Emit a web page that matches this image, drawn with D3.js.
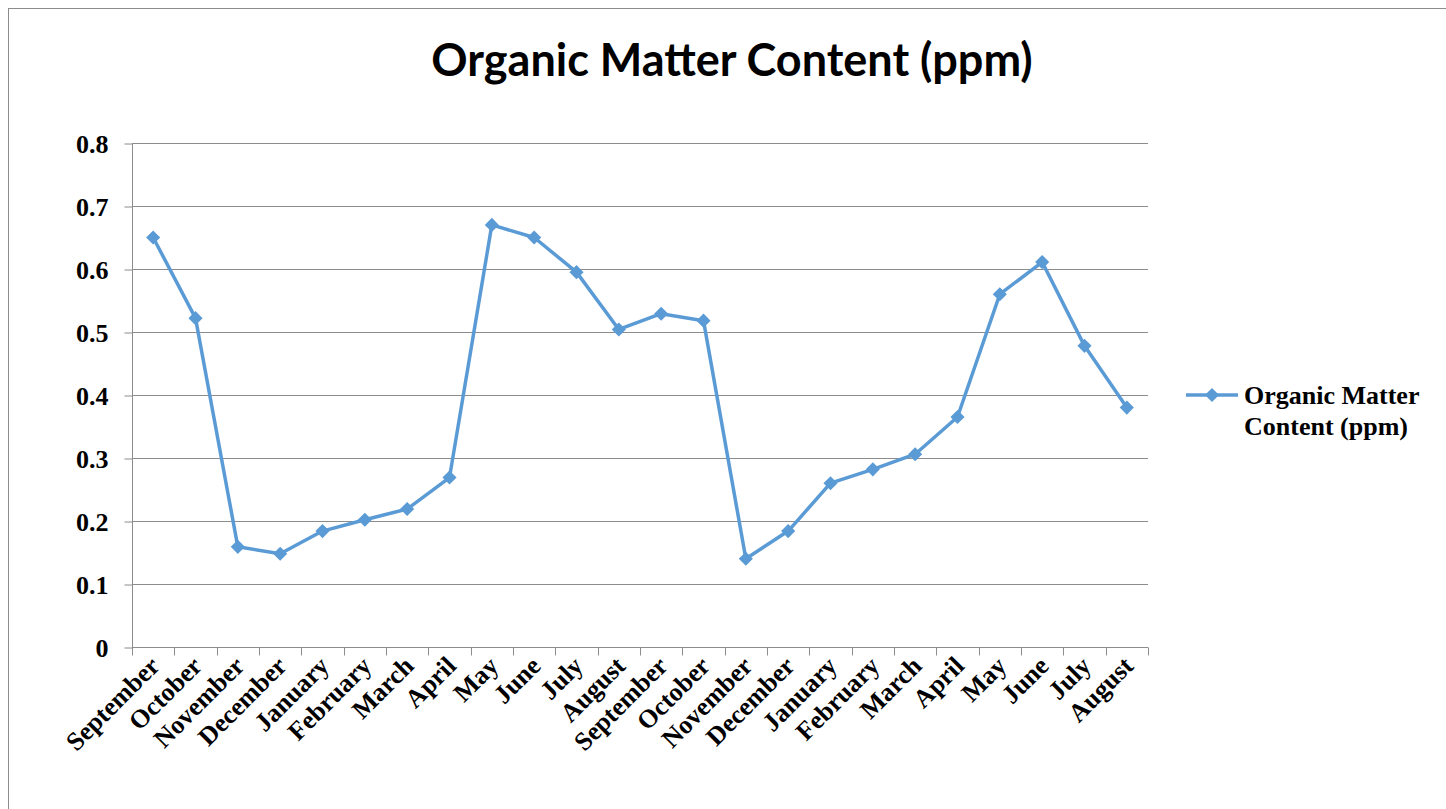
<!DOCTYPE html>
<html>
<head>
<meta charset="utf-8">
<script src="https://cdn.jsdelivr.net/npm/d3@7"></script>
<style>
    body { margin: 0; background: #fff; }
    .grid line { stroke: #8c8c8c; stroke-width: 1; }
    .axis path, .axis line { stroke: #8c8c8c; stroke-width: 1; fill: none; }
    .tick-label { font-family: "Liberation Serif", "Times New Roman", serif; font-weight: bold; font-size: 26px; fill: #000; }
</style>
</head>
<body>
<script>
"use strict";

const months = ["September", "October", "November", "December", "January", "February", "March",
    "April", "May", "June", "July", "August",
    "September", "October", "November", "December", "January", "February", "March",
    "April", "May", "June", "July", "August"];

const organicMatter = [0.65, 0.522, 0.159, 0.148, 0.184, 0.202, 0.219, 0.269, 0.670, 0.650, 0.595, 0.504,
    0.529, 0.518, 0.140, 0.184, 0.260, 0.282, 0.306, 0.365, 0.560, 0.611, 0.478, 0.380];

const yTicks = [0, 0.1, 0.2, 0.3, 0.4, 0.5, 0.6, 0.7, 0.8];

const seriesName = "Organic Matter Content (ppm)";

let width = 1446,
    height = 809,
    plotLeft = 132,
    plotRight = 1148,
    plotTop = 143,
    plotBottom = 647,
    blue = "#5b9bd5";

let data = months.map(function (m, i) {
    return { key: i, month: m, value: organicMatter[i] };
});

let svg = d3.select("body")
    .append("svg")
    .attr("width", width)
    .attr("height", height);

// outer chart frame
svg.append("rect")
    .attr("x", 8.5)
    .attr("y", 8.5)
    .attr("width", width)
    .attr("height", height)
    .attr("fill", "none")
    .attr("stroke", "#8c8c8c");

svg.append("text")
    .attr("x", 732)
    .attr("y", 76)
    .attr("text-anchor", "middle")
    .style("font-family", "Lato, 'Open Sans', sans-serif")
    .style("font-weight", "bold")
    .style("font-size", "45px")
    .text(seriesName);

let x = d3.scaleBand()
    .domain(data.map(d => d.key))
    .range([plotLeft, plotRight]);

let y = d3.scaleLinear()
    .domain([0, 0.8])
    .range([plotBottom, plotTop]);

// horizontal gridlines
svg.append("g")
    .attr("class", "grid")
    .selectAll("line")
    .data(yTicks.filter(d => d > 0))
    .enter().append("line")
    .attr("x1", plotLeft)
    .attr("x2", plotRight)
    .attr("y1", d => Math.round(y(d)) + 0.5)
    .attr("y2", d => Math.round(y(d)) + 0.5);

// y axis
let yAxis = svg.append("g")
    .attr("class", "axis")
    .attr("transform", "translate(" + (plotLeft + 0.5) + ",0.5)")
    .call(d3.axisLeft(y).tickValues(yTicks).tickSize(8).tickPadding(16)
        .tickFormat(d => d === 0 ? "0" : d3.format(".1f")(d)));
yAxis.selectAll("text").attr("class", "tick-label").attr("dy", "0.33em");
yAxis.select(".domain").attr("d", "M0," + plotTop + "V" + plotBottom);

// x axis: ticks at category boundaries
let xAxis = svg.append("g")
    .attr("class", "axis")
    .attr("transform", "translate(0," + (plotBottom + 0.5) + ")");

xAxis.append("line")
    .attr("x1", plotLeft)
    .attr("x2", plotRight)
    .attr("y1", 0)
    .attr("y2", 0);

let bounds = data.map(d => x(d.key)).concat([plotRight]);
xAxis.selectAll("line.tk")
    .data(bounds)
    .enter().append("line")
    .attr("class", "tk")
    .attr("x1", d => Math.round(d) + 0.5)
    .attr("x2", d => Math.round(d) + 0.5)
    .attr("y1", 0)
    .attr("y2", 8);

xAxis.selectAll("text")
    .data(data)
    .enter().append("text")
    .attr("class", "tick-label")
    .attr("text-anchor", "end")
    .attr("transform", d => "translate(" + (x(d.key) + x.bandwidth() / 2 + 8) + ",20) rotate(-45)")
    .text(d => d.month);

// line
let line = d3.line()
    .x(d => x(d.key) + x.bandwidth() / 2)
    .y(d => y(d.value));

svg.append("path")
    .datum(data)
    .attr("fill", "none")
    .attr("stroke", blue)
    .attr("stroke-width", 3.5)
    .attr("stroke-linejoin", "round")
    .attr("d", line);

let diamond = d3.symbol().type(d3.symbolSquare).size(100);

svg.selectAll("path.marker")
    .data(data)
    .enter().append("path")
    .attr("class", "marker")
    .attr("fill", blue)
    .attr("d", diamond)
    .attr("transform", d => "translate(" + (x(d.key) + x.bandwidth() / 2) + "," + y(d.value) + ") rotate(45)");

// legend
let legend = svg.append("g")
    .attr("transform", "translate(1186,395)");

legend.append("line")
    .attr("x1", 0)
    .attr("x2", 52)
    .attr("stroke", blue)
    .attr("stroke-width", 3.5);

legend.append("path")
    .attr("fill", blue)
    .attr("d", diamond)
    .attr("transform", "translate(26,0) rotate(45)");

legend.append("text")
    .attr("class", "tick-label")
    .attr("x", 58)
    .attr("y", 9)
    .text("Organic Matter");

legend.append("text")
    .attr("class", "tick-label")
    .attr("x", 58)
    .attr("y", 40)
    .text("Content (ppm)");
</script>
</body>
</html>
